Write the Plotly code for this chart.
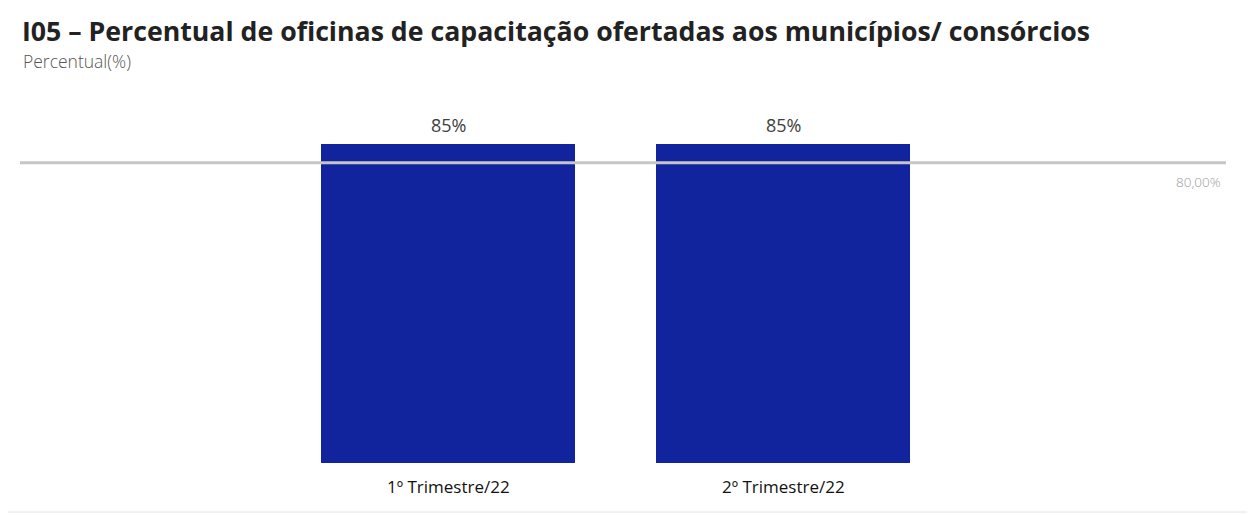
import plotly.graph_objects as go

categories = ["1º Trimestre/22", "2º Trimestre/22"]
values = [85, 85]
value_labels = ["85%", "85%"]
target = 80
target_label = "80,00%"

title = "I05 – Percentual de oficinas de capacitação ofertadas aos municípios/ consórcios"
subtitle = "Percentual(%)"

OFF = 8  # page body margin
W, H = 1255, 515
ml, mr, mt, mb = 20 - OFF, 29 + OFF, 90 - OFF, 52 + OFF

pw, ph = W - ml - mr, H - mt - mb


def px_x(x):
    return (x - OFF - ml) / pw


def px_y(y):
    return (H - mb - (y - OFF)) / ph


fig = go.Figure()
fig.add_trace(go.Bar(
    x=categories, y=values, width=0.758,
    marker=dict(color="#12239E", line=dict(width=0)),
    hoverinfo="skip",
))

# target line
fig.add_shape(type="line", xref="paper", x0=0, x1=1, yref="y", y0=target, y1=target,
              line=dict(color="#c6c6c6", width=3), layer="above")
fig.add_annotation(xref="paper", x=px_x(1223), yref="y", y=target, yshift=-19,
                   text=target_label, showarrow=False, xanchor="right", yanchor="middle",
                   font=dict(family="Open Sans", size=13.5, color="#9a9a9a", weight=300))

# value labels
for c, v, t in zip(categories, values, value_labels):
    fig.add_annotation(x=c, y=v, text=t, showarrow=False, yanchor="bottom", yshift=5,
                       font=dict(family="Open Sans", size=18, color="#404040"))

# outer border (right and bottom edges visible within the page)
fig.add_shape(type="line", xref="paper", yref="paper",
              x0=px_x(1248), x1=px_x(1248), y0=px_y(512), y1=px_y(8),
              line=dict(color="#e2e2e2", width=1), layer="below")
fig.add_shape(type="line", xref="paper", yref="paper",
              x0=px_x(8), x1=px_x(1248), y0=px_y(512), y1=px_y(512),
              line=dict(color="#e2e2e2", width=1), layer="below")

fig.add_annotation(xref="paper", yref="paper", x=px_x(21), y=px_y(61),
                   text=subtitle, showarrow=False, xanchor="left", yanchor="middle",
                   font=dict(family="Open Sans", size=17.5, color="#555555", weight=300))

fig.update_layout(
    width=W, height=H,
    margin=dict(l=ml, r=mr, t=mt, b=mb, autoexpand=False),
    paper_bgcolor="white", plot_bgcolor="white",
    showlegend=False,
    title=dict(text=title, x=(22 - OFF) / W, xanchor="left", y=1 - (32 - OFF) / H, yanchor="middle",
               font=dict(family="Open Sans", size=26.7, color="#222222", weight=700)),
    xaxis=dict(range=[-1.278, 2.321], showgrid=False, zeroline=False, showline=False,
               ticks="", ticklabelstandoff=12,
               tickfont=dict(family="Open Sans", size=17, color="#111111"),
               fixedrange=True),
    yaxis=dict(range=[0, 99.4], visible=False, showgrid=False, zeroline=False, fixedrange=True),
    bargap=0,
)

fig.write_html("out.html")
